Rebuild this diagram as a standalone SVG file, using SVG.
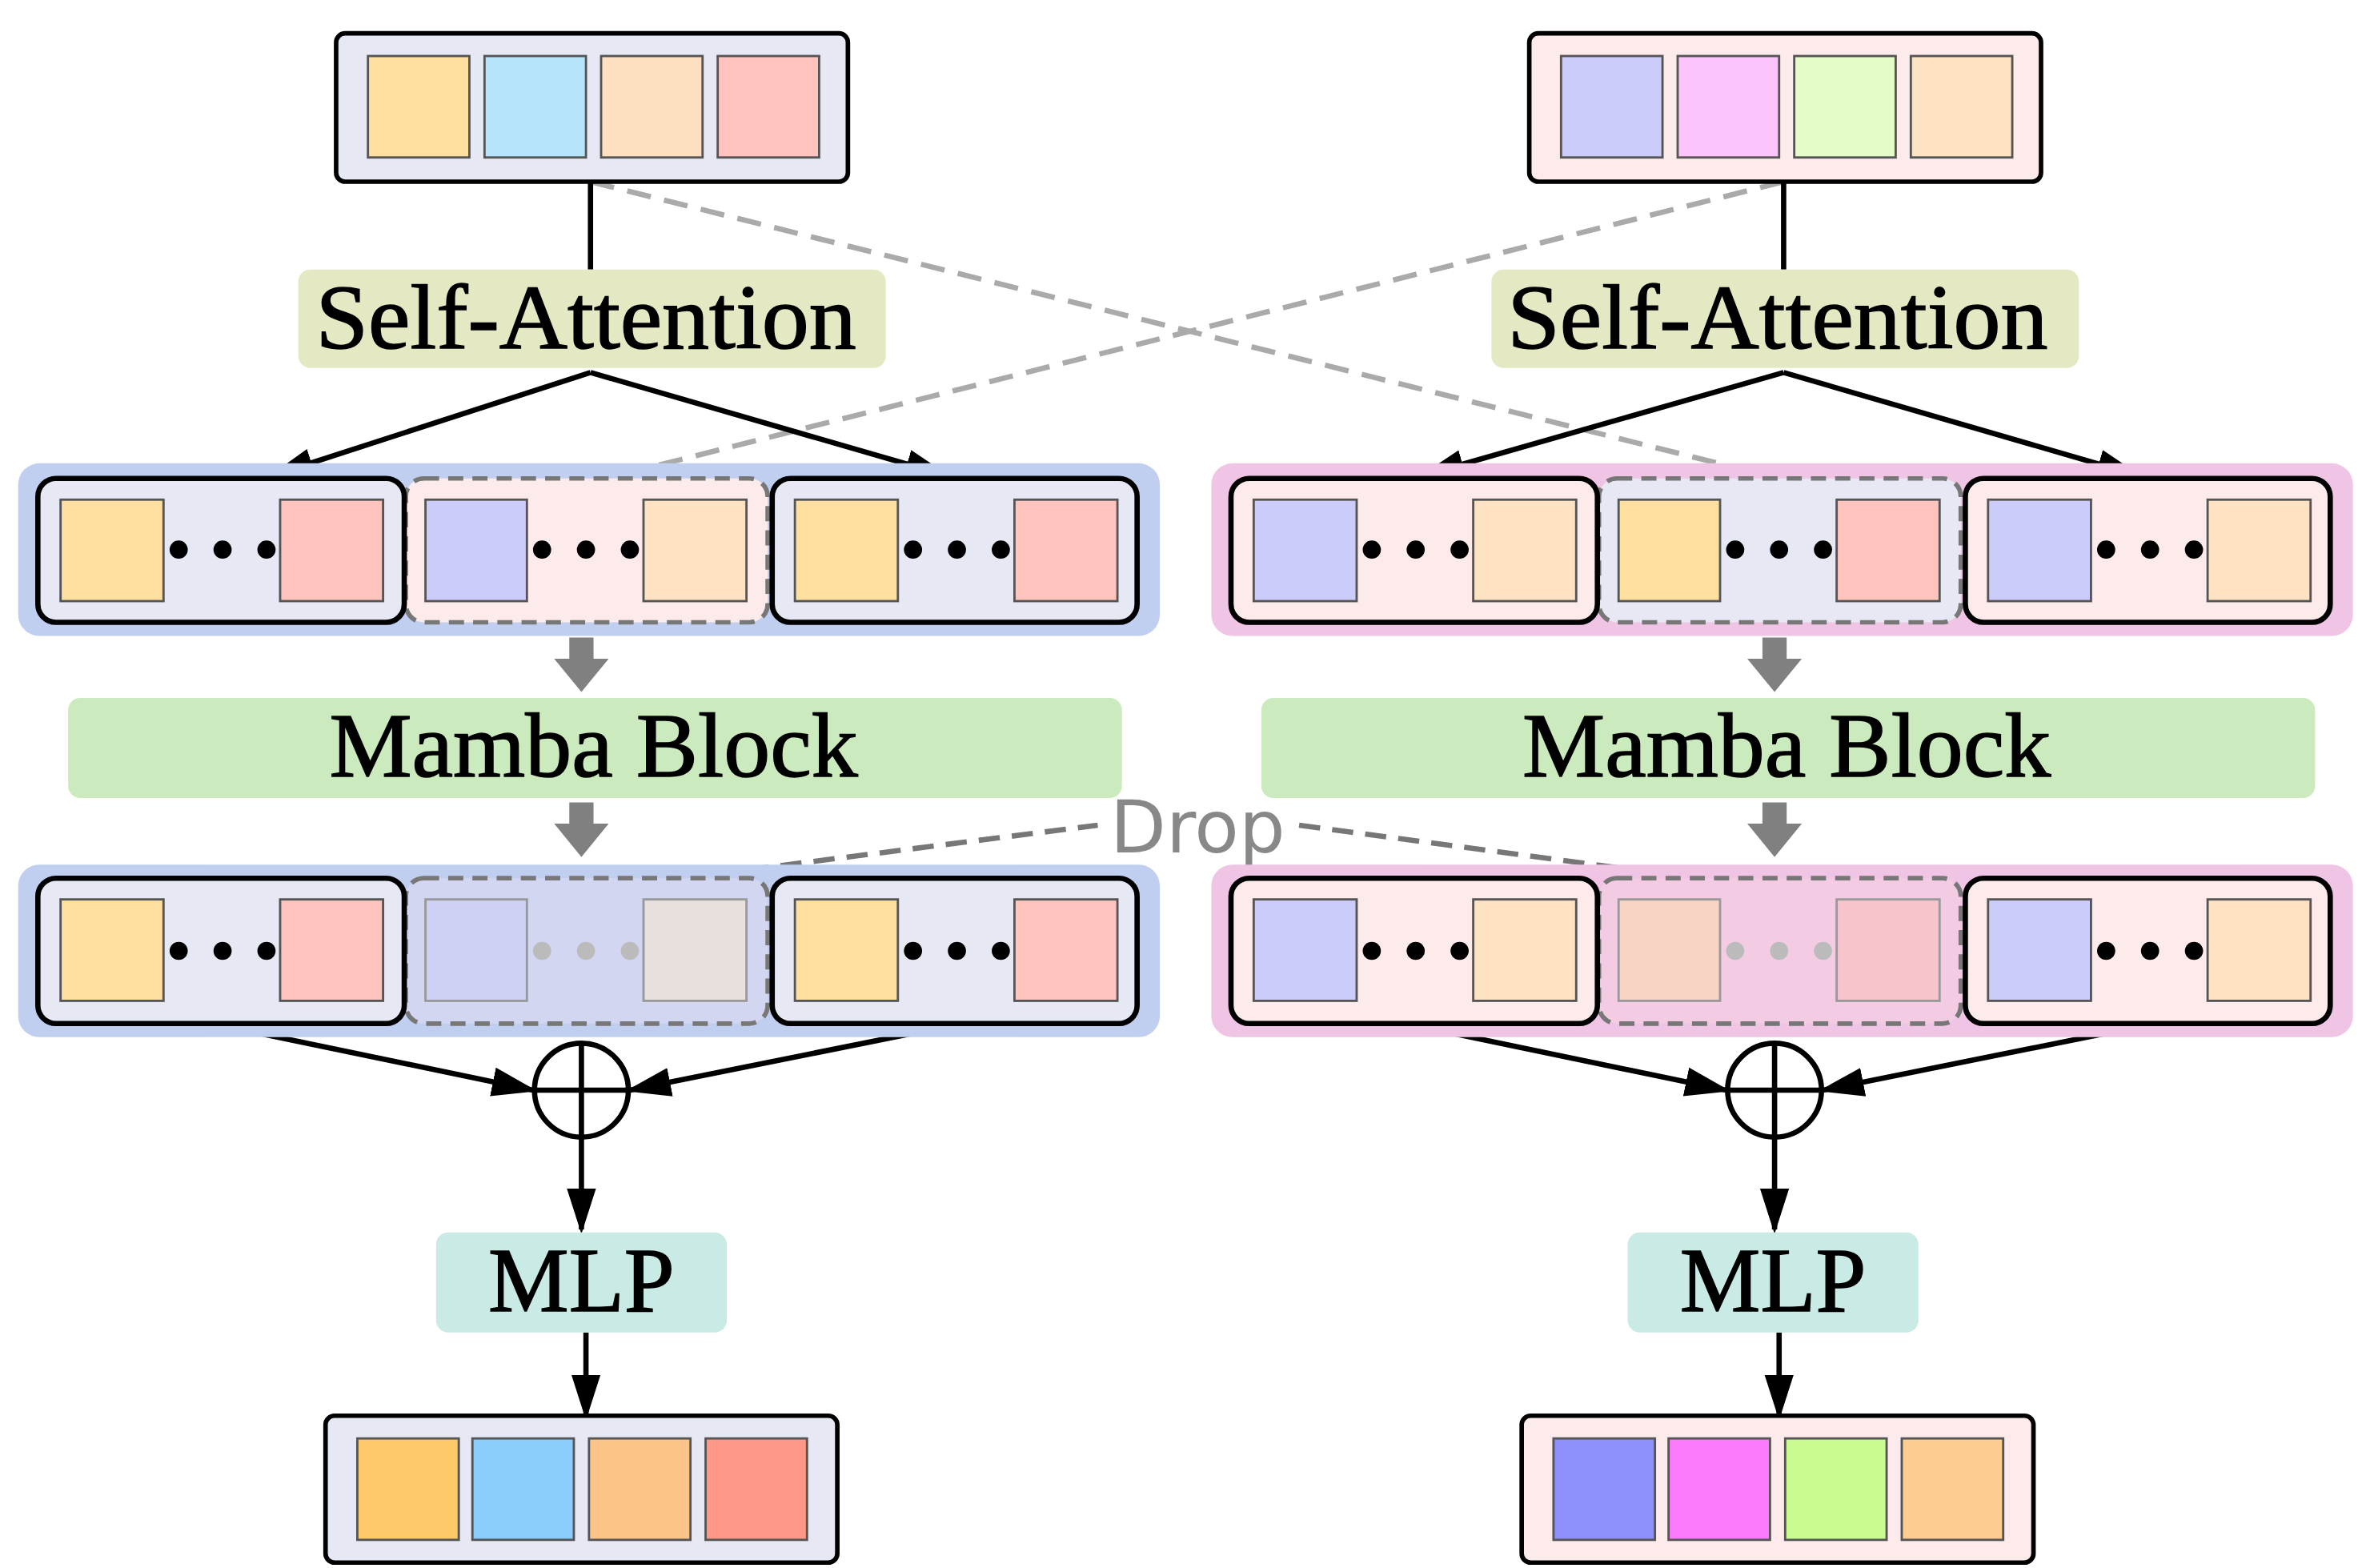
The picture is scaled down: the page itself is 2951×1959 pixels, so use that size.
<svg xmlns="http://www.w3.org/2000/svg" width="2951" height="1959" viewBox="0 0 2951 1959">
<defs>
<style>
.cell{stroke:#555;stroke-width:1.5}
.fcell{stroke:#999;stroke-width:1.5}
.frame{stroke:#000;stroke-width:3}
.solid{stroke:#000;stroke-width:3.5}
.dash{stroke:#777;stroke-width:3;stroke-dasharray:10 6}
.lbl{font-family:"Liberation Serif",serif;font-size:60px;fill:#000;text-anchor:middle;stroke:#000;stroke-width:0.8}
.con{stroke:#000;stroke-width:3.5;fill:none}
.gd{stroke:#aaa;stroke-width:3.5;stroke-dasharray:16 9;fill:none}
.dd{stroke:#777;stroke-width:3.5;stroke-dasharray:14 8;fill:none}
</style>
<marker id="ahb" viewBox="0 0 10 10" refX="9" refY="5" markerWidth="30" markerHeight="30" markerUnits="userSpaceOnUse" orient="auto"><path d="M0,1.8L10,5L0,8.2z" fill="#000"/></marker>
<symbol id="dots" overflow="visible"><circle cx="0" cy="0" r="6"/><circle cx="29" cy="0" r="6"/><circle cx="58" cy="0" r="6"/></symbol>
</defs>
<rect width="2951" height="1959" fill="#fff"/>
<g transform="scale(1.8917)">
<g id="connectors">
<path class="gd" d="M390,120L1175,316"/>
<path class="gd" d="M1178,120L400,316"/>
<path class="dd" d="M450,580L725,545"/>
<path class="dd" d="M858,545L1120,580"/>
<path class="con" d="M390,120V178"/>
<path class="con" d="M1178,120V178"/>
<path class="con" d="M390,246L180,314" marker-end="url(#ahb)"/>
<path class="con" d="M390,246L625,314" marker-end="url(#ahb)"/>
<path class="con" d="M1178,246L940,314" marker-end="url(#ahb)"/>
<path class="con" d="M1178,246L1412,314" marker-end="url(#ahb)"/>
<path class="con" d="M145,677L352,720" marker-end="url(#ahb)"/>
<path class="con" d="M630,677L416,720" marker-end="url(#ahb)"/>
<path class="con" d="M933,677L1140,720" marker-end="url(#ahb)"/>
<path class="con" d="M1418,677L1204,720" marker-end="url(#ahb)"/>
<path class="con" d="M384,752V812" marker-end="url(#ahb)"/>
<path class="con" d="M1172,752V812" marker-end="url(#ahb)"/>
<path class="con" d="M387,880V935" marker-end="url(#ahb)"/>
<path class="con" d="M1175,880V935" marker-end="url(#ahb)"/>
<path fill="#808080" d="M376,421h16v14h10l-18,22l-18,-22h10z"/>
<path fill="#808080" d="M376,530h16v14h10l-18,22l-18,-22h10z"/>
<path fill="#808080" d="M1164,421h16v14h10l-18,22l-18,-22h10z"/>
<path fill="#808080" d="M1164,530h16v14h10l-18,22l-18,-22h10z"/>
<text x="791" y="563" font-family="DejaVu Sans,sans-serif" font-size="48" fill="#888" text-anchor="middle">Drop</text>
</g>
<g id="top-left">
<rect class="frame" x="222" y="22" width="338" height="98" rx="6" fill="#e6e8f4"/>
<rect class="cell" x="243" y="37" width="67" height="67" fill="#fde0a0"/>
<rect class="cell" x="320" y="37" width="67" height="67" fill="#b5e4fb"/>
<rect class="cell" x="397" y="37" width="67" height="67" fill="#fde0c0"/>
<rect class="cell" x="474" y="37" width="67" height="67" fill="#ffc4be"/>
</g>
<g id="top-right">
<rect class="frame" x="1010" y="22" width="338" height="98" rx="6" fill="#fdeaea"/>
<rect class="cell" x="1031" y="37" width="67" height="67" fill="#ccccfa"/>
<rect class="cell" x="1108" y="37" width="67" height="67" fill="#fcc4fc"/>
<rect class="cell" x="1185" y="37" width="67" height="67" fill="#e4fcc8"/>
<rect class="cell" x="1262" y="37" width="67" height="67" fill="#fde2c4"/>
</g>
<g id="sa-left"><rect x="197" y="178" width="388" height="65" rx="8" fill="#e4e9c4"/><text class="lbl" x="387" y="230" textLength="357" lengthAdjust="spacingAndGlyphs">Self-Attention</text></g>
<g id="sa-right"><rect x="985" y="178" width="388" height="65" rx="8" fill="#e4e9c4"/><text class="lbl" x="1174" y="230" textLength="357" lengthAdjust="spacingAndGlyphs">Self-Attention</text></g>
<g id="row1-left">
<rect x="12" y="306" width="754" height="114" rx="14" fill="#c0cff0"/>
<rect class="dash" x="268" y="316" width="239" height="95" rx="12" fill="#fdeaea"/>
<rect class="solid" x="25" y="316" width="242" height="95" rx="12" fill="#e6e8f4"/>
<rect class="solid" x="510" y="316" width="241" height="95" rx="12" fill="#e6e8f4"/>
<rect class="cell" x="40" y="330" width="68" height="67" fill="#fde0a0"/><rect class="cell" x="185" y="330" width="68" height="67" fill="#ffc4be"/><use href="#dots" x="118" y="363"/>
<rect class="cell" x="281" y="330" width="67" height="67" fill="#ccccfa"/><rect class="cell" x="425" y="330" width="68" height="67" fill="#fde2c4"/><use href="#dots" x="358" y="363"/>
<rect class="cell" x="525" y="330" width="68" height="67" fill="#fde0a0"/><rect class="cell" x="670" y="330" width="68" height="67" fill="#ffc4be"/><use href="#dots" x="603" y="363"/>
</g>
<g id="row1-right">
<rect x="800" y="306" width="754" height="114" rx="14" fill="#f0c4e4"/>
<rect class="dash" x="1056" y="316" width="239" height="95" rx="12" fill="#e6e8f4"/>
<rect class="solid" x="813" y="316" width="242" height="95" rx="12" fill="#fdeaea"/>
<rect class="solid" x="1298" y="316" width="241" height="95" rx="12" fill="#fdeaea"/>
<rect class="cell" x="828" y="330" width="68" height="67" fill="#ccccfa"/><rect class="cell" x="973" y="330" width="68" height="67" fill="#fde2c4"/><use href="#dots" x="906" y="363"/>
<rect class="cell" x="1069" y="330" width="67" height="67" fill="#fde0a0"/><rect class="cell" x="1213" y="330" width="68" height="67" fill="#ffc4be"/><use href="#dots" x="1146" y="363"/>
<rect class="cell" x="1313" y="330" width="68" height="67" fill="#ccccfa"/><rect class="cell" x="1458" y="330" width="68" height="67" fill="#fde2c4"/><use href="#dots" x="1391" y="363"/>
</g>
<g id="mamba-left"><rect x="45" y="461" width="696" height="66" rx="8" fill="#cbeabd"/><text class="lbl" x="392" y="513" textLength="349" lengthAdjust="spacingAndGlyphs">Mamba Block</text></g>
<g id="mamba-right"><rect x="833" y="461" width="696" height="66" rx="8" fill="#cbeabd"/><text class="lbl" x="1180" y="513" textLength="349" lengthAdjust="spacingAndGlyphs">Mamba Block</text></g>
<g id="row2-left">
<rect x="12" y="571" width="754" height="114" rx="14" fill="#c0cff0"/>
<rect class="dash" x="268" y="580" width="239" height="96" rx="12" fill="#d2d6f0"/>
<rect class="solid" x="25" y="580" width="242" height="96" rx="12" fill="#e6e8f4"/>
<rect class="solid" x="510" y="580" width="241" height="96" rx="12" fill="#e6e8f4"/>
<rect class="cell" x="40" y="594" width="68" height="67" fill="#fde0a0"/><rect class="cell" x="185" y="594" width="68" height="67" fill="#ffc4be"/><use href="#dots" x="118" y="628"/>
<rect class="fcell" x="281" y="594" width="67" height="67" fill="#ced0f4"/><rect class="fcell" x="425" y="594" width="68" height="67" fill="#e8e0dc"/><use href="#dots" x="358" y="628" fill="#bbb"/>
<rect class="cell" x="525" y="594" width="68" height="67" fill="#fde0a0"/><rect class="cell" x="670" y="594" width="68" height="67" fill="#ffc4be"/><use href="#dots" x="603" y="628"/>
</g>
<g id="row2-right">
<rect x="800" y="571" width="754" height="114" rx="14" fill="#f0c4e4"/>
<rect class="dash" x="1056" y="580" width="239" height="96" rx="12" fill="#f3cce4"/>
<rect class="solid" x="813" y="580" width="242" height="96" rx="12" fill="#fdeaea"/>
<rect class="solid" x="1298" y="580" width="241" height="96" rx="12" fill="#fdeaea"/>
<rect class="cell" x="828" y="594" width="68" height="67" fill="#ccccfa"/><rect class="cell" x="973" y="594" width="68" height="67" fill="#fde2c4"/><use href="#dots" x="906" y="628"/>
<rect class="fcell" x="1069" y="594" width="67" height="67" fill="#f8d4c4"/><rect class="fcell" x="1213" y="594" width="68" height="67" fill="#f7c4cc"/><use href="#dots" x="1146" y="628" fill="#bbb"/>
<rect class="cell" x="1313" y="594" width="68" height="67" fill="#ccccfa"/><rect class="cell" x="1458" y="594" width="68" height="67" fill="#fde2c4"/><use href="#dots" x="1391" y="628"/>
</g>
<g id="add-left"><circle cx="384" cy="720" r="31" fill="#fff" stroke="#000" stroke-width="3.5"/><path d="M353,720h62M384,689v62" stroke="#000" stroke-width="3.5"/></g>
<g id="add-right"><circle cx="1172" cy="720" r="31" fill="#fff" stroke="#000" stroke-width="3.5"/><path d="M1141,720h62M1172,689v62" stroke="#000" stroke-width="3.5"/></g>
<g id="mlp-left"><rect x="288" y="814" width="192" height="66" rx="8" fill="#c9eae5"/><text class="lbl" x="384" y="866" textLength="123" lengthAdjust="spacingAndGlyphs">MLP</text></g>
<g id="mlp-right"><rect x="1075" y="814" width="192" height="66" rx="8" fill="#c9eae5"/><text class="lbl" x="1171" y="866" textLength="123" lengthAdjust="spacingAndGlyphs">MLP</text></g>
<g id="out-left">
<rect class="frame" x="215" y="935" width="338" height="97" rx="6" fill="#e6e8f4"/>
<rect class="cell" x="236" y="950" width="67" height="67" fill="#fdc868"/>
<rect class="cell" x="312" y="950" width="67" height="67" fill="#8accfc"/>
<rect class="cell" x="389" y="950" width="67" height="67" fill="#fdc488"/>
<rect class="cell" x="466" y="950" width="67" height="67" fill="#fd9888"/>
</g>
<g id="out-right">
<rect class="frame" x="1005" y="935" width="338" height="97" rx="6" fill="#fdeaea"/>
<rect class="cell" x="1026" y="950" width="67" height="67" fill="#8f8ffb"/>
<rect class="cell" x="1102" y="950" width="67" height="67" fill="#fa7afa"/>
<rect class="cell" x="1179" y="950" width="67" height="67" fill="#c8fc90"/>
<rect class="cell" x="1256" y="950" width="67" height="67" fill="#fdcc90"/>
</g>
</g>
</svg>
